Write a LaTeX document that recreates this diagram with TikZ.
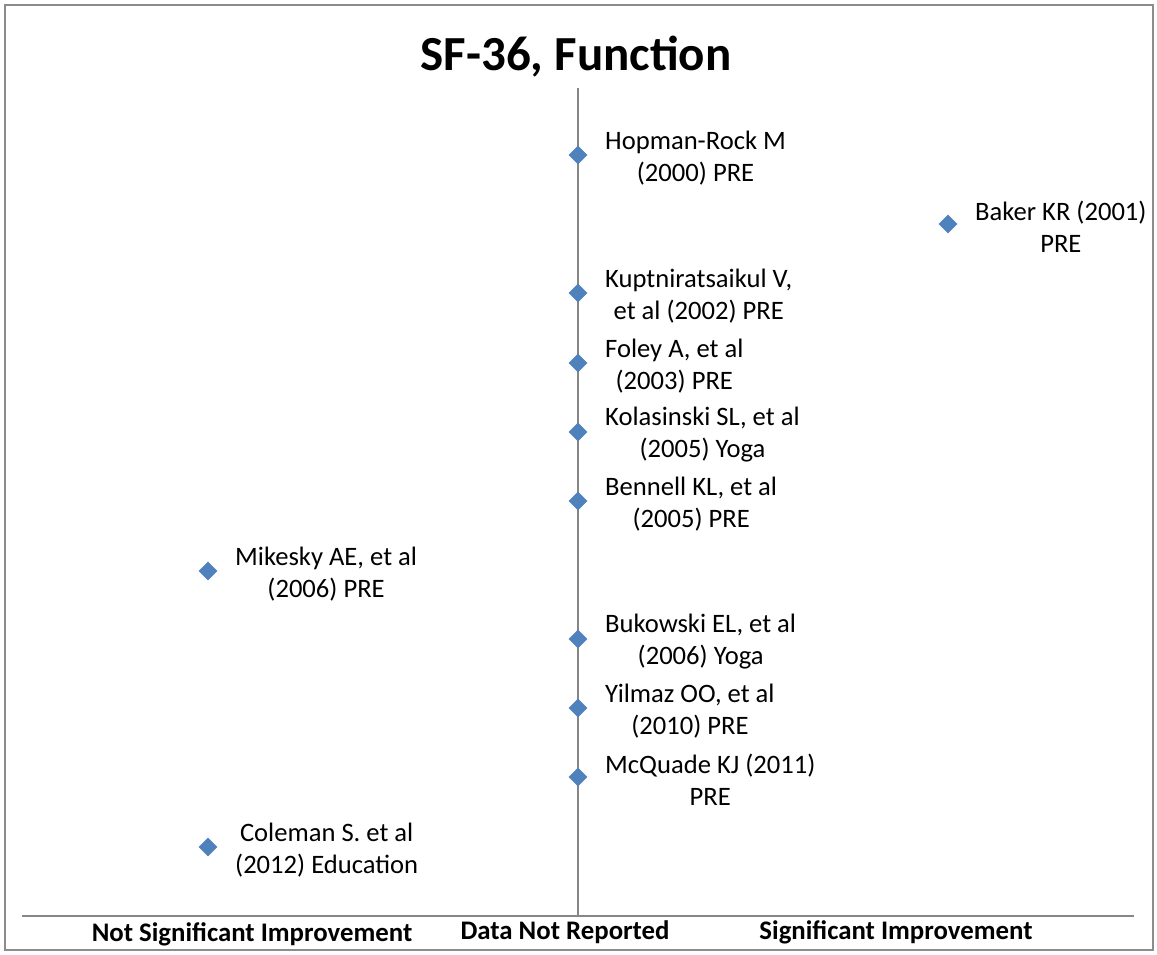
\documentclass[tikz,border=0pt]{standalone}
\usepackage{fontspec}
\setmainfont{Carlito}
\usetikzlibrary{shapes.geometric}
\definecolor{markblue}{HTML}{4F81BD}
\definecolor{axisgray}{HTML}{868686}
\definecolor{framegray}{HTML}{8C8C8C}
\tikzset{
  pt/.style={diamond, fill=markblue, inner sep=0pt, minimum width=19pt, minimum height=19pt},
  lbl/.style={anchor=west, align=center, inner sep=0pt, xshift=27pt, yshift=-3pt,
    font=\fontsize{26.6}{32}\selectfont},
  cat/.style={font=\fontsize{26.8}{30}\selectfont\bfseries, inner sep=0pt},
  axisline/.style={draw=axisgray, line width=1.6pt},
}
\begin{document}
\begin{tikzpicture}[x=1pt, y=-1pt]
\useasboundingbox (0,0) rectangle (1157,954);
% outer frame
\draw[framegray, line width=2pt] (5,5) rectangle (1153,950);

% title
\node[font=\fontsize{49}{55}\selectfont\bfseries, inner sep=0pt] (title) at (576,57) {SF-36, Function};

% axes
\coordinate (vtop) at (578,88);
\coordinate (vbot) at (578,916);
\coordinate (hl) at (22,916);
\coordinate (hr) at (1134,916);
\draw[axisline] (vtop) -- (vbot);
\draw[axisline] (hl) -- (hr);

% category labels
\node[cat] (c1) at (252,934) {Not Significant Improvement};
\node[cat] (c2) at (565,932) {Data Not Reported};
\node[cat] (c3) at (896,932) {Significant Improvement};

% studies
\node[pt] (p1) at (578,155) {};
\node[lbl] (l1) at (p1.center) {Hopman-Rock M\\(2000) PRE};
\node[pt] (p2) at (948,224) {};
\node[lbl] (l2) at (p2.center) {Baker KR (2001)\\PRE};
\node[pt] (p3) at (578,293) {};
\node[lbl] (l3) at (p3.center) {Kuptniratsaikul V,\\et al (2002) PRE};
\node[pt] (p4) at (578,363) {};
\node[lbl] (l4) at (p4.center) {Foley A, et al\\(2003) PRE};
\node[pt] (p5) at (578,432) {};
\node[lbl] (l5) at (p5.center) {Kolasinski SL, et al\\(2005) Yoga};
\node[pt] (p6) at (578,501) {};
\node[lbl] (l6) at (p6.center) {Bennell KL, et al\\(2005) PRE};
\node[pt] (p7) at (208,571) {};
\node[lbl] (l7) at (p7.center) {Mikesky AE, et al\\(2006) PRE};
\node[pt] (p8) at (578,639) {};
\node[lbl] (l8) at (p8.center) {Bukowski EL, et al\\(2006) Yoga};
\node[pt] (p9) at (578,708) {};
\node[lbl] (l9) at (p9.center) {Yilmaz OO, et al\\(2010) PRE};
\node[pt] (p10) at (578,777) {};
\node[lbl] (l10) at (p10.center) {McQuade KJ (2011)\\PRE};
\node[pt] (p11) at (208,847) {};
\node[lbl] (l11) at (p11.center) {Coleman S. et al\\(2012) Education};
\end{tikzpicture}
\end{document}
